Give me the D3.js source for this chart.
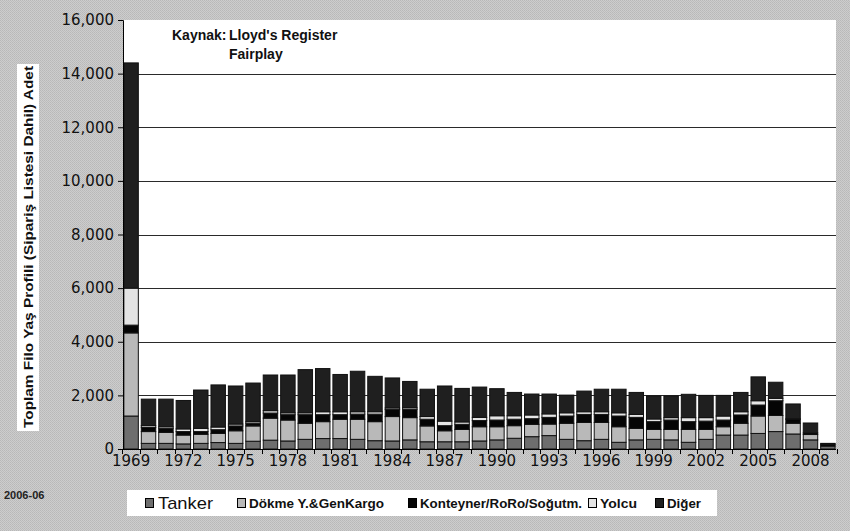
<!DOCTYPE html>
<html>
<head>
<meta charset="utf-8">
<script src="https://cdn.jsdelivr.net/npm/d3@7"></script>
<style>
  body { margin: 0; background: #c6c6c6; }
  svg { display: block; }
</style>
</head>
<body>
<div id="chart"></div>
<script>
var w = 850;
var h = 531;

// insa yili
var years = d3.range(1969, 2010);

// gemi sayisi (adet), her tip icin
var tanker = [1230, 210, 210, 190, 210, 240, 210, 290, 330, 300, 360, 390, 390, 360, 310, 300, 340, 270, 270, 270, 300,
    340, 400, 460, 500, 360, 310, 360, 250, 340, 360, 340, 250, 360, 520, 520, 580, 650, 560, 340, 110];
var dokme = [3100, 440, 410, 330, 340, 340, 470, 570, 820, 780, 600, 630, 720, 750, 710, 910, 830, 590, 410, 460, 530,
    490, 470, 460, 430, 600, 680, 630, 580, 430, 370, 390, 480, 370, 310, 440, 650, 600, 400, 200, 0];
var konteyner = [290, 150, 150, 130, 100, 140, 180, 100, 190, 200, 320, 260, 170, 190, 280, 260, 310, 250, 190, 190, 230,
    250, 240, 210, 250, 270, 300, 300, 400, 410, 290, 350, 290, 310, 250, 310, 410, 550, 140, 60, 70];
var yolcu = [1380, 70, 60, 100, 120, 100, 70, 60, 90, 70, 70, 110, 110, 90, 90, 60, 60, 100, 170, 90, 120,
    160, 130, 140, 130, 120, 100, 100, 120, 110, 100, 90, 150, 130, 150, 120, 160, 90, 30, 0, 0];
var diger = [8400, 990, 1030, 1060, 1430, 1570, 1420, 1440, 1330, 1410, 1610, 1610, 1390, 1510, 1320, 1120, 980, 1020, 1310, 1250, 1130,
    1010, 870, 780, 740, 660, 770, 840, 880, 820, 860, 810, 870, 830, 770, 720, 890, 600, 550, 370, 30];

var seriesNames = ["Tanker", "Dökme Y.&GenKargo", "Konteyner/RoRo/Soğutm.", "Yolcu", "Diğer"];
var seriesColors = ["#6e6e6e", "#b9b9b9", "#050505", "#e4e4e4", "#1f1f1f"];
var yTicks = [0, 2000, 4000, 6000, 8000, 10000, 12000, 14000, 16000];

var keys = ["tanker", "dokme", "konteyner", "yolcu", "diger"];
var rows = years.map(function(y, i) {
    return { year: y, tanker: tanker[i], dokme: dokme[i], konteyner: konteyner[i], yolcu: yolcu[i], diger: diger[i] };
});

var svg = d3.select("#chart")
    .append("svg")
    .attr("width", w)
    .attr("height", h);

// noktali gri zemin
var pat = svg.append("defs").append("pattern")
    .attr("id", "dots")
    .attr("width", 2)
    .attr("height", 2)
    .attr("patternUnits", "userSpaceOnUse");
pat.append("rect").attr("width", 2).attr("height", 2).attr("fill", "#cdcdcd");
pat.append("rect").attr("width", 1).attr("height", 1).attr("fill", "#b8b8b8");
pat.append("rect").attr("x", 1).attr("y", 1).attr("width", 1).attr("height", 1).attr("fill", "#bdbdbd");

svg.append("rect")
    .attr("width", w)
    .attr("height", h)
    .attr("fill", "url(#dots)");

var plotLeft = 123, plotRight = 836, plotTop = 20, plotBottom = 449;

var x = d3.scaleBand()
    .domain(years)
    .range([plotLeft, plotRight])
    .paddingInner(0.17)
    .paddingOuter(0.05);

var y = d3.scaleLinear()
    .domain([0, 16000])
    .range([plotBottom, plotTop]);

svg.append("rect")
    .attr("x", plotLeft)
    .attr("y", plotTop)
    .attr("width", plotRight - plotLeft)
    .attr("height", plotBottom - plotTop)
    .attr("fill", "white");

// yatay izgara
svg.append("g")
    .selectAll("line")
    .data(yTicks.slice(1, -1))
    .enter()
    .append("line")
    .attr("x1", plotLeft)
    .attr("x2", plotRight)
    .attr("y1", function(d) { return Math.round(y(d)) + 0.5; })
    .attr("y2", function(d) { return Math.round(y(d)) + 0.5; })
    .attr("stroke", "#2a2a2a")
    .attr("stroke-width", 1);

var stack = d3.stack().keys(keys);
var layers = stack(rows);

svg.append("g")
    .selectAll("g")
    .data(layers)
    .enter()
    .append("g")
    .attr("fill", function(d, i) { return seriesColors[i]; })
    .selectAll("rect")
    .data(function(d) { return d.filter(function(p) { return p[1] > p[0]; }); })
    .enter()
    .append("rect")
    .attr("x", function(d) { return x(d.data.year); })
    .attr("width", x.bandwidth())
    .attr("y", function(d) { return y(d[1]); })
    .attr("height", function(d) { return y(d[0]) - y(d[1]); })
    .attr("stroke", "#111")
    .attr("stroke-width", 1);

// y ekseni
var yAxis = d3.axisLeft(y)
    .tickValues(yTicks)
    .tickSize(5)
    .tickPadding(4)
    .tickFormat(d3.format(","));

svg.append("g")
    .attr("transform", "translate(" + plotLeft + ",0)")
    .call(yAxis)
    .call(function(g) {
        g.select(".domain").attr("stroke", "#000");
        g.selectAll("line").attr("stroke", "#000");
        g.selectAll("text")
            .attr("font-family", "DejaVu Sans, Verdana, sans-serif")
            .attr("font-size", 15)
            .attr("fill", "#111");
    });

// x ekseni
var xAxis = d3.axisBottom(x)
    .tickValues(years.filter(function(d) { return (d - 1969) % 3 === 0; }))
    .tickSize(0)
    .tickPadding(6);

var gx = svg.append("g")
    .attr("transform", "translate(0," + plotBottom + ")")
    .call(xAxis);
gx.select(".domain").remove();
gx.selectAll("text")
    .attr("font-family", "DejaVu Sans, Verdana, sans-serif")
    .attr("font-size", 15)
    .attr("fill", "#111");

var edge = x(1969) - x.step() * x.paddingInner() / 2;
gx.selectAll(".sep")
    .data(years.concat([2010]))
    .enter()
    .append("line")
    .attr("x1", function(d) { return Math.round(edge + (d - 1969) * x.step()) + 0.5; })
    .attr("x2", function(d) { return Math.round(edge + (d - 1969) * x.step()) + 0.5; })
    .attr("y1", 0)
    .attr("y2", 5)
    .attr("stroke", "#000");

svg.append("line")
    .attr("x1", plotLeft - 5)
    .attr("x2", plotRight)
    .attr("y1", plotBottom + 0.5)
    .attr("y2", plotBottom + 0.5)
    .attr("stroke", "#000");

// y baslik
svg.append("rect")
    .attr("x", 17)
    .attr("y", 64)
    .attr("width", 22)
    .attr("height", 367)
    .attr("fill", "white");

svg.append("text")
    .attr("transform", "translate(33,247) rotate(-90)")
    .attr("text-anchor", "middle")
    .attr("font-family", "Liberation Sans, Arial, sans-serif")
    .attr("font-weight", "bold")
    .attr("font-size", 13)
    .attr("textLength", 362)
    .attr("lengthAdjust", "spacingAndGlyphs")
    .attr("fill", "#111")
    .text("Toplam Filo Yaş Profili (Sipariş Listesi Dahil) Adet");

// kaynak
var src = svg.append("g")
    .attr("font-family", "Liberation Sans, Arial, sans-serif")
    .attr("font-weight", "bold")
    .attr("font-size", 14)
    .attr("fill", "#111");
src.append("text").attr("x", 172).attr("y", 40).text("Kaynak:");
src.append("text").attr("x", 229).attr("y", 40).text("Lloyd's Register");
src.append("text").attr("x", 229).attr("y", 59).text("Fairplay");

svg.append("text")
    .attr("x", 4)
    .attr("y", 499)
    .attr("font-family", "Liberation Sans, Arial, sans-serif")
    .attr("font-weight", "bold")
    .attr("font-size", 11)
    .attr("fill", "#222")
    .text("2006-06");

// lejant
svg.append("rect")
    .attr("x", 127)
    .attr("y", 490)
    .attr("width", 590)
    .attr("height", 26)
    .attr("fill", "white");

var legendX = [145, 237, 408, 588, 655];
var legendW = [55, 135, 162, 37, 34];

var lg = svg.append("g")
    .selectAll("g")
    .data(seriesNames)
    .enter()
    .append("g")
    .attr("transform", function(d, i) { return "translate(" + legendX[i] + ",503)"; });

lg.append("rect")
    .attr("x", 0.5)
    .attr("y", -4.5)
    .attr("width", 8)
    .attr("height", 9)
    .attr("fill", function(d, i) { return seriesColors[i]; })
    .attr("stroke", "#000");

lg.append("text")
    .attr("x", function(d, i) { return i === 0 ? 13 : 12; })
    .attr("y", function(d, i) { return i === 0 ? 6 : 5; })
    .attr("font-family", "Liberation Sans, Arial, sans-serif")
    .attr("font-weight", function(d, i) { return i === 0 ? "normal" : "bold"; })
    .attr("font-size", function(d, i) { return i === 0 ? 17 : 13; })
    .attr("textLength", function(d, i) { return legendW[i]; })
    .attr("lengthAdjust", "spacingAndGlyphs")
    .attr("fill", "#111")
    .text(function(d) { return d; });
</script>
</body>
</html>
